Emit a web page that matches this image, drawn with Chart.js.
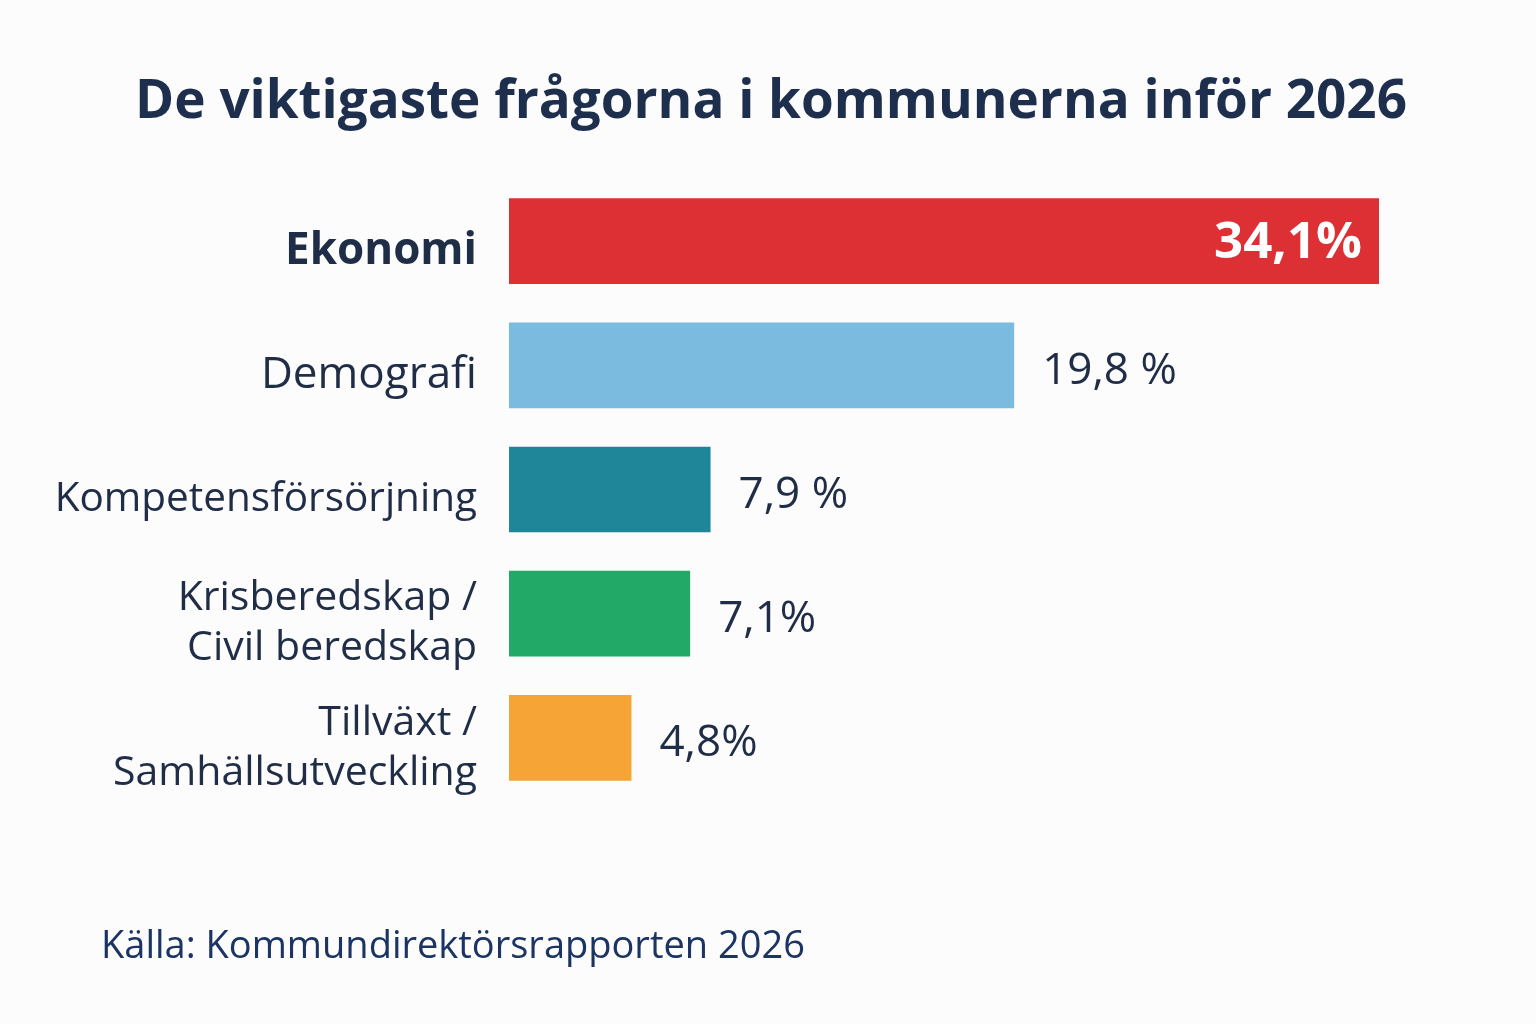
<!DOCTYPE html>
<html lang="sv">
<head>
<meta charset="utf-8">
<title>De viktigaste frågorna i kommunerna inför 2026</title>
<script src="https://cdn.jsdelivr.net/npm/chart.js@4/dist/chart.umd.min.js"></script>
<style>
    html, body { margin: 0; padding: 0; background: #fcfcfd; }
    #wrap { position: relative; width: 1536px; height: 1024px; }
    #title {
        position: absolute; left: 0; top: 66px; width: 1542px;
        text-align: center; line-height: 64px;
        font-family: "Open Sans", sans-serif; font-size: 53px; font-weight: bold;
        color: #1e2f4e; white-space: nowrap; margin: 0;
    }
    #source {
        position: absolute; left: 101px; top: 917px;
        font-family: "Open Sans", sans-serif; font-size: 38px;
        color: #1b3463; white-space: nowrap;
    }
</style>
</head>
<body>
<div id="wrap">
    <canvas id="chart" width="1536" height="1024"></canvas>
    <h1 id="title">De viktigaste frågorna i kommunerna inför 2026</h1>
    <div id="source">Källa: Kommundirektörsrapporten 2026</div>
</div>
<script>
// Data
const categories = ['Ekonomi', 'Demografi', 'Kompetensförsörjning', ['Krisberedskap /', 'Civil beredskap'], ['Tillväxt /', 'Samhällsutveckling']];
const shares = [34.1, 19.8, 7.9, 7.1, 4.8];
const shareLabels = ['34,1%', '19,8 %', '7,9 %', '7,1%', '4,8%'];
const barColors = ['#dc3035', '#7bbbe0', '#1f8598', '#22a968', '#f5a435'];

const textColor = '#1f2d47';
const fontFamily = '"Open Sans", sans-serif';
const labelSizes = [44, 44, 40.5, 41, 41];

// Value labels: inside the first bar, after the others
const valueLabels = {
    id: 'valueLabels',
    afterDatasetsDraw(chart) {
        const ctx = chart.ctx;
        const bars = chart.getDatasetMeta(0).data;
        ctx.save();
        ctx.textBaseline = 'middle';
        bars.forEach((bar, i) => {
            if (i === 0) {
                ctx.font = 'bold 51px ' + fontFamily;
                ctx.fillStyle = '#ffffff';
                ctx.textAlign = 'right';
                ctx.fillText(shareLabels[i], bar.x - 17, bar.y + 2);
            } else {
                ctx.font = '44px ' + fontFamily;
                ctx.fillStyle = textColor;
                ctx.textAlign = 'left';
                ctx.fillText(shareLabels[i], bar.x + 28, bar.y + 6);
            }
        });
        ctx.restore();
    }
};

new Chart(document.getElementById('chart').getContext('2d'), {
    type: 'bar',
    data: {
        labels: categories,
        datasets: [{
            data: shares,
            backgroundColor: barColors,
            borderWidth: 0,
            barPercentage: 0.69,
            categoryPercentage: 1
        }]
    },
    options: {
        indexAxis: 'y',
        responsive: false,
        animation: false,
        layout: { padding: { left: 0, right: 157, top: 179, bottom: 224 } },
        scales: {
            x: {
                display: false,
                min: 0,
                max: Math.max(...shares)
            },
            y: {
                grid: { display: false, drawTicks: false },
                border: { display: false },
                afterFit(scale) { scale.width = 509; },
                ticks: {
                    padding: 32,
                    labelOffset: 10,
                    color: textColor,
                    font: ctx => ({
                        family: fontFamily,
                        size: labelSizes[ctx.index],
                        weight: ctx.index === 0 ? 'bold' : 'normal',
                        lineHeight: 1.22
                    })
                }
            }
        },
        plugins: {
            legend: { display: false },
            tooltip: { enabled: false }
        }
    },
    plugins: [valueLabels]
});
</script>
</body>
</html>
